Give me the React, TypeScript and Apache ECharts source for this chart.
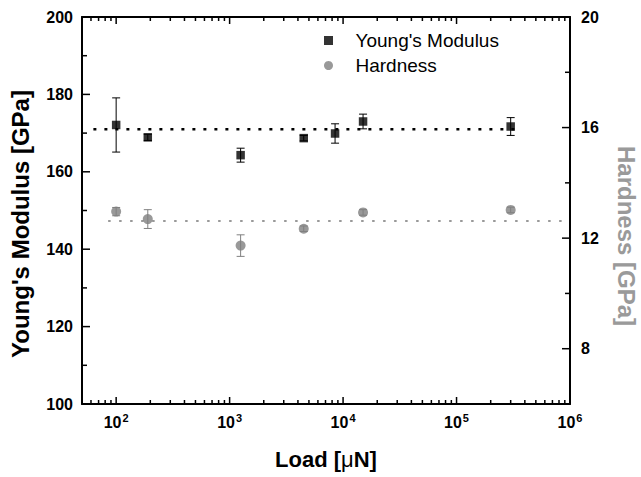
import React, { useEffect, useRef } from "react";
import * as echarts from "echarts";

// ---- data ----
const modulusLoads = [100, 190, 1250, 4500, 8500, 15000, 300000];
const modulusValues = [172.1, 168.9, 164.3, 168.7, 169.9, 173.0, 171.7];
const modulusErrors = [7.0, 0.8, 1.8, 0.7, 2.5, 1.9, 2.3];

const hardnessLoads = [100, 190, 1250, 4500, 15000, 300000];
const hardnessValues = [12.96, 12.69, 11.73, 12.34, 12.93, 13.02];
const hardnessErrors = [0.15, 0.34, 0.39, 0.1, 0.1, 0.1];

const modulusMeanLoads = [63, 350000];
const modulusMean = 171;
const hardnessMeanLoads = [85, 900000];
const hardnessMean = 12.62;

// ---- axis ticks ----
const decadeTicks = [100, 1000, 10000, 100000, 1000000];
const minorTicks = [
  60, 70, 80, 90,
  200, 300, 400, 500, 600, 700, 800, 900,
  2000, 3000, 4000, 5000, 6000, 7000, 8000, 9000,
  20000, 30000, 40000, 50000, 60000, 70000, 80000, 90000,
  200000, 300000, 400000, 500000, 600000, 700000, 800000, 900000,
];
const modulusMajorTicks = [100, 120, 140, 160, 180, 200];
const modulusMinorTicks = [110, 130, 150, 170, 190];
const hardnessMajorTicks = [8, 12, 16, 20];
const hardnessMinorTicks = [6, 10, 14, 18];

const FONT = "'Liberation Sans', Arial, Helvetica, sans-serif";
const BLACK = "#000000";
const GRAY = "#808080";
const TITLE_GRAY = "#9a9a9a";

function errorBarRenderer(color: string) {
  return (params: any, api: any) => {
    const x = api.value(0);
    const lo = api.value(1);
    const hi = api.value(2);
    const top = api.coord([x, hi]);
    const bot = api.coord([x, lo]);
    const cap = 4;
    const style = { stroke: color, lineWidth: 1 };
    return {
      type: "group",
      children: [
        { type: "line", shape: { x1: top[0], y1: top[1], x2: bot[0], y2: bot[1] }, style },
        { type: "line", shape: { x1: top[0] - cap, y1: top[1], x2: top[0] + cap, y2: top[1] }, style },
        { type: "line", shape: { x1: bot[0] - cap, y1: bot[1], x2: bot[0] + cap, y2: bot[1] }, style },
      ],
    };
  };
}

// inward ticks on the bottom and top frame, placed by the log x axis
function xTickRenderer(params: any, api: any) {
  const p = api.coord([api.value(0), api.value(1)]);
  const len = api.value(2) ? 7 : 4;
  const cs = params.coordSys;
  const bottom = cs.y + cs.height;
  const top = cs.y;
  return {
    type: "group",
    children: [
      { type: "line", shape: { x1: p[0], y1: bottom, x2: p[0], y2: bottom - len }, style: { stroke: BLACK, lineWidth: 1.5 } },
      { type: "line", shape: { x1: p[0], y1: top, x2: p[0], y2: top + len }, style: { stroke: BLACK, lineWidth: 1.5 } },
    ],
  };
}

// inward ticks on the left or right frame, placed by a y axis
function yTickRenderer(side: "left" | "right") {
  return (params: any, api: any) => {
    const p = api.coord([api.value(0), api.value(1)]);
    const len = api.value(2) ? 8 : 5;
    const cs = params.coordSys;
    const x0 = side === "left" ? cs.x : cs.x + cs.width;
    const x1 = side === "left" ? x0 + len : x0 - len;
    return { type: "line", shape: { x1: x0, y1: p[1], x2: x1, y2: p[1] }, style: { stroke: BLACK, lineWidth: 1.5 } };
  };
}

export default function App() {
  const ref = useRef<HTMLDivElement>(null);

  useEffect(() => {
    if (!ref.current) return;
    const chart = echarts.init(ref.current, undefined, { renderer: "svg" });

    const option: any = {
      animation: false,
      backgroundColor: "#ffffff",
      grid: { left: 82, right: 71, top: 17, bottom: 73 },
      legend: {
        orient: "vertical",
        left: 319,
        top: 26,
        itemWidth: 44,
        itemHeight: 9,
        itemGap: 6,
        textStyle: { fontFamily: FONT, fontSize: 19, color: BLACK, lineHeight: 19 },
        data: [
          { name: "Young's Modulus", icon: "path://M0 0H10V10H0Z", itemStyle: { color: BLACK } },
          { name: "Hardness", icon: "circle", itemStyle: { color: GRAY } },
        ],
      },
      xAxis: [
        {
          type: "log",
          logBase: 10,
          min: 50,
          max: 1000000,
          position: "bottom",
          splitLine: { show: false },
          axisLine: { show: true, onZero: false, lineStyle: { color: BLACK, width: 2 } },
          axisTick: { show: false },
          axisLabel: {
            customValues: decadeTicks,
            margin: 8,
            formatter: (v: number) => {
              const e = Math.round(Math.log10(v));
              if (Math.abs(Math.log10(v) - e) > 0.01) return "";
              return `{b|10}{s|${e}}`;
            },
            rich: {
              b: { fontFamily: FONT, fontSize: 16, fontWeight: "bold", color: BLACK },
              s: { fontFamily: FONT, fontSize: 11, fontWeight: "bold", color: BLACK, padding: [0, 0, 9, 1] },
            },
          },
          name: "Load [{m|\u03bc}N]",
          nameLocation: "middle",
          nameGap: 44,
          nameTextStyle: {
            fontFamily: FONT,
            fontSize: 22,
            fontWeight: "bold",
            color: BLACK,
            rich: { m: { fontFamily: FONT, fontSize: 22, fontWeight: "normal", color: BLACK } },
          },
        },
        {
          type: "log",
          logBase: 10,
          min: 50,
          max: 1000000,
          position: "top",
          splitLine: { show: false },
          axisLine: { show: true, onZero: false, lineStyle: { color: BLACK, width: 2 } },
          axisTick: { show: false },
          axisLabel: { show: false },
        },
      ],
      yAxis: [
        {
          type: "value",
          position: "left",
          min: 100,
          max: 200,
          interval: 20,
          splitLine: { show: false },
          axisLine: { show: true, onZero: false, lineStyle: { color: BLACK, width: 2 } },
          axisTick: { show: false },
          axisLabel: { fontFamily: FONT, fontSize: 16, fontWeight: "bold", color: BLACK, margin: 9 },
        },
        {
          type: "value",
          position: "right",
          min: 6,
          max: 20,
          interval: 2,
          splitLine: { show: false },
          axisLine: { show: true, onZero: false, lineStyle: { color: BLACK, width: 2 } },
          axisTick: { show: false },
          axisLabel: {
            fontFamily: FONT,
            fontSize: 16,
            fontWeight: "bold",
            color: BLACK,
            margin: 11,
            formatter: (v: number) => (hardnessMajorTicks.indexOf(v) >= 0 ? String(v) : ""),
          },
        },
      ],
      graphic: [
        {
          type: "text",
          x: 20,
          y: 224,
          rotation: Math.PI / 2,
          style: { text: "Young's Modulus [GPa]", fontFamily: FONT, fontSize: 24, fontWeight: "bold", fill: BLACK, align: "center", verticalAlign: "middle" },
        },
        {
          type: "text",
          x: 626,
          y: 236,
          rotation: -Math.PI / 2,
          style: { text: "Hardness [GPa]", fontFamily: FONT, fontSize: 24, fontWeight: "bold", fill: TITLE_GRAY, align: "center", verticalAlign: "middle" },
        },
      ],
      series: [
        {
          name: "x ticks",
          type: "custom",
          xAxisIndex: 0,
          yAxisIndex: 0,
          silent: true,
          z: 5,
          encode: { x: 0, y: 1 },
          data: [...decadeTicks.map((v) => [v, 150, 1]), ...minorTicks.map((v) => [v, 150, 0])],
          renderItem: xTickRenderer,
        },
        {
          name: "left ticks",
          type: "custom",
          xAxisIndex: 0,
          yAxisIndex: 0,
          silent: true,
          z: 5,
          encode: { x: 0, y: 1 },
          data: [...modulusMajorTicks.map((v) => [1000, v, 1]), ...modulusMinorTicks.map((v) => [1000, v, 0])],
          renderItem: yTickRenderer("left"),
        },
        {
          name: "right ticks",
          type: "custom",
          xAxisIndex: 0,
          yAxisIndex: 1,
          silent: true,
          z: 5,
          encode: { x: 0, y: 1 },
          data: [...hardnessMajorTicks.map((v) => [1000, v, 1]), ...hardnessMinorTicks.map((v) => [1000, v, 0])],
          renderItem: yTickRenderer("right"),
        },
        {
          name: "modulus mean",
          type: "line",
          xAxisIndex: 0,
          yAxisIndex: 0,
          data: modulusMeanLoads.map((l) => [l, modulusMean]),
          symbol: "none",
          silent: true,
          z: 1,
          lineStyle: { color: BLACK, width: 2.5, type: [3, 8] },
        },
        {
          name: "hardness mean",
          type: "line",
          xAxisIndex: 0,
          yAxisIndex: 1,
          data: hardnessMeanLoads.map((l) => [l, hardnessMean]),
          symbol: "none",
          silent: true,
          z: 1,
          lineStyle: { color: "#999999", width: 2, type: [2.5, 8.5] },
        },
        {
          name: "modulus error",
          type: "custom",
          xAxisIndex: 0,
          yAxisIndex: 0,
          z: 2,
          encode: { x: 0, y: [1, 2] },
          data: modulusLoads.map((l, i) => [l, modulusValues[i] - modulusErrors[i], modulusValues[i] + modulusErrors[i]]),
          renderItem: errorBarRenderer(BLACK),
        },
        {
          name: "hardness error",
          type: "custom",
          xAxisIndex: 0,
          yAxisIndex: 1,
          z: 2,
          encode: { x: 0, y: [1, 2] },
          data: hardnessLoads.map((l, i) => [l, hardnessValues[i] - hardnessErrors[i], hardnessValues[i] + hardnessErrors[i]]),
          renderItem: errorBarRenderer(GRAY),
        },
        {
          name: "Young's Modulus",
          type: "scatter",
          xAxisIndex: 0,
          yAxisIndex: 0,
          z: 3,
          symbol: "rect",
          symbolSize: 8.5,
          itemStyle: { color: BLACK },
          data: modulusLoads.map((l, i) => [l, modulusValues[i]]),
        },
        {
          name: "Hardness",
          type: "scatter",
          xAxisIndex: 0,
          yAxisIndex: 1,
          z: 3,
          symbol: "circle",
          symbolSize: 10,
          itemStyle: { color: GRAY },
          data: hardnessLoads.map((l, i) => [l, hardnessValues[i]]),
        },
      ],
    };

    chart.setOption(option);
    return () => {
      chart.dispose();
    };
  }, []);

  return (
    <div ref={ref} style={{ position: "fixed", left: 0, top: 0, width: 641, height: 477, background: "#ffffff" }} />
  );
}
